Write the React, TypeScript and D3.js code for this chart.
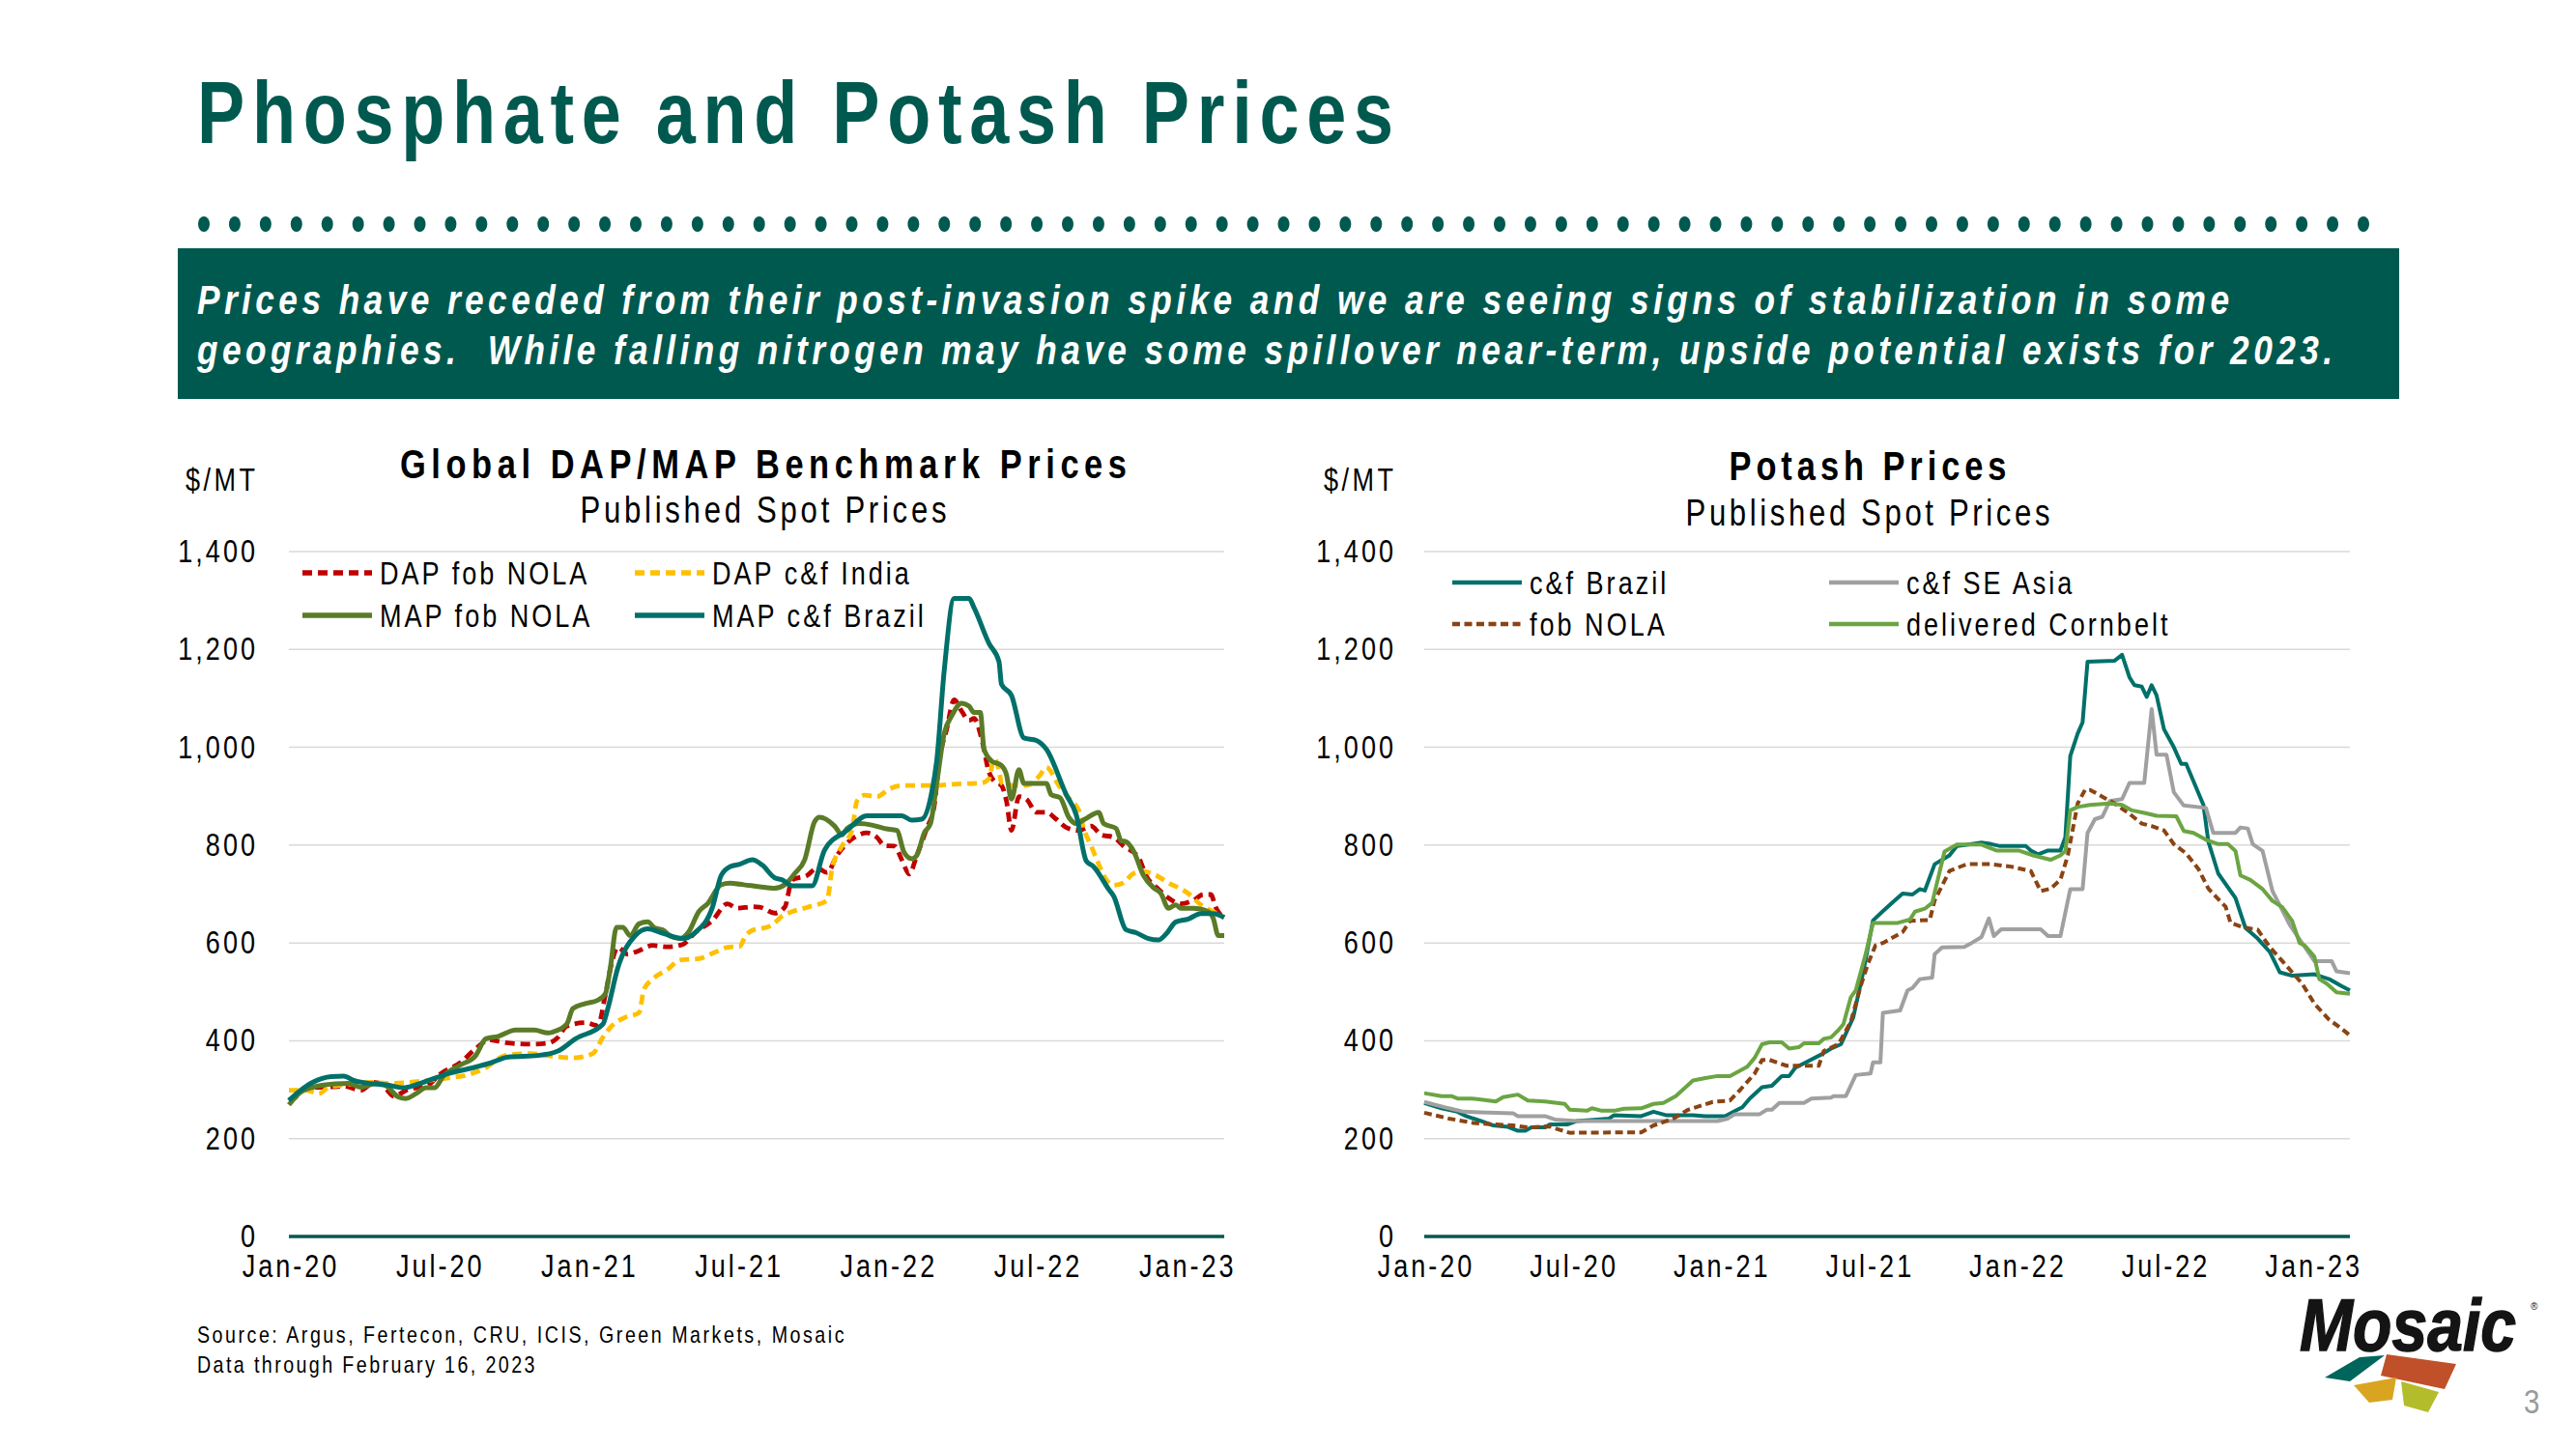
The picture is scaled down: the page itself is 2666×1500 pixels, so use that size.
import React from 'react';
import * as d3 from 'd3';

type Pt = [number, number];

const FONT = '"Liberation Sans", Arial, Helvetica, sans-serif';
const BRAND = '#00594F';

// x values are months since Jan 2020 (data through Feb 16, 2023)
const X_END = 37.54;
const tickMonths = [0, 6, 12, 18, 24, 30, 36];
const tickLabels = ['Jan-20', 'Jul-20', 'Jan-21', 'Jul-21', 'Jan-22', 'Jul-22', 'Jan-23'];
const yTicks = [0, 200, 400, 600, 800, 1000, 1200, 1400];

// ---------- Global DAP/MAP ----------
const dapFobNola: Pt[] = [[0,278],[0.2,282],[0.7,305],[1.3,305],[2.2,307],[2.9,299],[3.4,315],[3.8,308],[4.2,287],[4.8,301],[5.5,307],[6.1,333],[6.9,356],[7.5,384],[8.05,402],[8.7,396],[9.7,393],[10.4,395],[10.8,407],[11.15,430],[11.9,437],[12.4,431],[12.7,494],[12.95,558],[13.2,591],[13.6,577],[14,583],[14.6,595],[15.2,592],[15.8,597],[16.3,621],[17,646],[17.6,680],[18,671],[18.6,674],[18.9,673],[19.5,661],[19.9,673],[20.2,729],[20.8,738],[21.2,753],[21.6,744],[22,779],[22.3,799],[22.7,816],[23.2,825],[23.6,816],[23.9,799],[24.3,798],[24.6,770],[24.9,741],[25.2,779],[25.6,834],[25.9,880],[26.1,972],[26.4,1037],[26.7,1097],[27,1074],[27.3,1055],[27.5,1059],[27.8,1018],[28.1,949],[28.3,931],[28.6,922],[28.8,890],[29,830],[29.3,899],[29.6,894],[30,867],[30.4,867],[30.8,853],[31.2,836],[31.7,830],[32.2,839],[32.6,821],[33.1,816],[33.5,798],[34.1,775],[34.4,738],[34.9,710],[35.3,692],[35.8,680],[36.3,687],[36.7,699],[37,699],[37.2,673],[37.54,650]];
const dapCfrIndia: Pt[] = [[0,299],[0.7,299],[1.2,292],[1.6,305],[2.2,310],[3.3,315],[3.9,313],[4.8,315],[5.6,319],[6.4,324],[7.15,330],[7.8,342],[8.7,370],[9.7,374],[10.6,368],[11.4,365],[12.2,374],[12.6,407],[12.95,430],[13.5,448],[14.05,457],[14.25,505],[14.6,526],[15.2,546],[15.7,565],[16.45,568],[17.1,581],[17.6,591],[18.1,593],[18.3,612],[18.6,626],[18.9,629],[19.4,637],[19.8,655],[20.2,664],[20.8,673],[21.6,687],[21.8,752],[22.2,798],[22.6,830],[22.8,890],[23.1,902],[23.6,899],[24.1,915],[24.7,922],[25.75,922],[26.8,925],[27.8,927],[28.1,936],[28.3,977],[28.5,954],[28.6,927],[29.1,922],[29.6,922],[30.1,940],[30.4,959],[30.9,922],[31.4,890],[31.7,872],[31.9,834],[32.2,798],[32.5,761],[32.7,738],[33.1,718],[33.5,723],[33.9,742],[34.3,746],[34.8,738],[35.3,723],[36.1,701],[36.6,678],[37.1,664],[37.54,652]];
const mapFobNola: Pt[] = [[0,269],[0.4,292],[0.95,305],[1.85,312],[2.4,313],[2.9,305],[3.5,313],[3.9,308],[4.4,285],[4.7,282],[5.1,292],[5.5,304],[5.85,304],[6.2,328],[6.9,351],[7.5,370],[7.9,404],[8.4,409],[9.1,422],[9.85,422],[10.4,416],[10.6,418],[11.15,434],[11.4,466],[11.9,476],[12.4,483],[12.7,496],[12.9,549],[13.15,632],[13.4,632],[13.7,615],[14.05,639],[14.4,643],[14.7,630],[15,627],[15.3,614],[15.7,609],[16.05,623],[16.45,664],[16.8,680],[17.35,719],[17.7,722],[18.25,719],[18.9,715],[19.5,712],[19.9,719],[20.3,742],[20.7,770],[21.1,848],[21.3,857],[21.9,839],[22.2,821],[22.4,834],[22.9,844],[23.4,841],[23.9,834],[24.4,830],[24.7,784],[25,772],[25.2,779],[25.5,825],[25.75,844],[26,926],[26.3,1028],[26.6,1064],[27,1090],[27.3,1084],[27.5,1071],[27.75,1071],[27.9,996],[28.2,972],[28.6,963],[28.8,944],[29,894],[29.3,954],[29.5,926],[29.9,926],[30.4,926],[30.6,903],[30.95,897],[31.3,857],[31.6,844],[31.95,853],[32.5,867],[32.7,844],[33.2,834],[33.4,809],[33.6,807],[33.9,788],[34.3,738],[34.7,713],[35,701],[35.3,671],[35.6,678],[35.8,671],[36.3,671],[36.9,664],[37.1,650],[37.3,615],[37.54,615]];
const mapCfrBrazil: Pt[] = [[0,278],[0.4,296],[0.95,315],[1.7,327],[2.2,328],[2.6,319],[3.4,312],[3.9,310],[4.6,304],[5.1,310],[5.6,319],[6.4,333],[7.4,345],[8.05,354],[8.8,367],[10,370],[10.8,379],[11.5,404],[12.6,434],[12.8,466],[13.2,549],[13.9,615],[14.4,629],[15,620],[15.8,609],[16.3,621],[17,673],[17.35,738],[17.7,756],[18.1,761],[18.6,770],[19,759],[19.5,733],[19.8,729],[20.2,717],[21,717],[21.5,790],[22.4,830],[23.2,860],[24.6,860],[25,851],[25.4,853],[25.8,908],[26,972],[26.3,1156],[26.7,1304],[27.3,1304],[27.5,1285],[28.1,1212],[28.5,1175],[28.6,1129],[29,1106],[29.5,1019],[30,1014],[30.4,996],[31.2,903],[31.6,862],[32,768],[32.3,756],[32.9,710],[33.1,696],[33.6,627],[34,621],[34.5,609],[34.9,606],[35.2,618],[35.6,643],[36.1,649],[36.6,660],[37.1,660],[37.54,652]];

// ---------- Potash ----------
const potCfrBrazil: Pt[] = [[0,273],[0.7,262],[1.35,255],[1.7,246],[2.3,236],[2.8,227],[3.4,224],[3.8,216],[4.1,216],[4.35,223],[4.9,223],[5.1,229],[5.8,229],[6.2,236],[7,239],[7.5,241],[7.7,248],[8.8,246],[9.3,255],[9.8,248],[10.9,248],[11.4,246],[12.2,246],[12.7,259],[12.9,264],[13.2,282],[13.7,305],[14.1,308],[14.5,328],[14.8,328],[15.05,345],[15.4,354],[16.1,372],[16.5,384],[16.9,393],[17.4,448],[17.8,540],[18.2,646],[18.6,665],[19,683],[19.4,701],[19.8,699],[20.1,710],[20.3,707],[20.7,761],[21.3,779],[21.6,798],[22.6,805],[23,802],[23.35,798],[24.4,798],[24.6,789],[24.9,781],[25.3,789],[25.8,789],[26,816],[26.2,982],[26.5,1028],[26.7,1051],[26.9,1175],[28,1177],[28.3,1189],[28.6,1143],[28.8,1127],[29.1,1124],[29.3,1103],[29.5,1127],[29.7,1106],[30,1037],[30.4,1000],[30.7,966],[30.9,966],[31.6,882],[31.8,807],[32.2,742],[32.9,692],[33.3,631],[33.8,609],[34.3,581],[34.7,540],[35.2,533],[36.1,536],[36.7,526],[37.2,512],[37.54,503]];
const potCfrSEAsia: Pt[] = [[0,275],[1,262],[1.6,255],[3.6,252],[3.8,246],[4.9,246],[5.3,239],[6.2,236],[11.9,236],[12.3,241],[12.6,250],[13.6,250],[13.9,259],[14.1,259],[14.4,273],[15.4,273],[15.7,282],[16.5,284],[16.6,287],[17.1,287],[17.5,330],[18.1,333],[18.2,356],[18.5,356],[18.6,457],[19.3,462],[19.6,503],[19.8,508],[20.1,526],[20.6,529],[20.7,577],[21,591],[21.9,592],[22.2,600],[22.6,612],[22.9,650],[23.1,614],[23.4,628],[25,628],[25.3,614],[25.8,614],[26.2,710],[26.7,710],[26.9,825],[27.2,853],[27.5,858],[27.8,890],[28.3,894],[28.6,927],[29.2,927],[29.5,1078],[29.7,985],[30.1,985],[30.4,908],[30.8,881],[31.7,876],[32,825],[32.9,825],[33.1,836],[33.4,834],[33.6,802],[34,788],[34.4,706],[35.1,637],[35.6,600],[36.1,563],[36.8,563],[37,542],[37.54,538]];
const potFobNola: Pt[] = [[0,253],[1,241],[2,232],[2.9,229],[3.6,227],[4.2,223],[5.1,225],[5.5,218],[5.9,212],[8.8,213],[9.3,227],[10.1,241],[10.7,259],[11.7,275],[12.4,278],[12.8,299],[13.4,333],[13.7,361],[14,361],[14.7,349],[16,349],[16.2,379],[16.8,393],[17.3,439],[17.7,512],[18,558],[18.3,595],[18.6,600],[19.4,622],[19.7,645],[20.5,647],[20.7,687],[21.3,747],[22,761],[23,761],[23.8,756],[24.6,747],[25,706],[25.4,711],[25.8,729],[26.1,779],[26.5,885],[26.8,913],[27,913],[27.5,899],[28,885],[28.6,864],[29.1,844],[29.5,839],[30,830],[30.4,802],[30.9,783],[31.4,751],[31.8,711],[32.5,674],[32.7,641],[33.2,632],[33.8,627],[34.3,591],[34.8,563],[35.2,540],[35.6,517],[36.1,476],[36.7,443],[37.2,425],[37.54,411]];
const potCornbelt: Pt[] = [[0,293],[0.7,287],[1.1,287],[1.35,282],[1.9,282],[2.3,280],[2.9,276],[3.2,285],[3.8,290],[4.2,278],[4.9,276],[5.7,271],[5.9,259],[6.6,257],[6.8,262],[7.2,257],[7.7,257],[8.1,261],[8.8,262],[9.3,271],[9.7,273],[10.2,287],[10.6,305],[10.9,319],[11.4,324],[11.9,328],[12.4,328],[13.1,347],[13.4,365],[13.7,393],[14,397],[14.5,397],[14.8,384],[15.2,387],[15.4,395],[16,395],[16.2,404],[16.5,407],[16.8,422],[17,434],[17.3,489],[17.5,503],[17.9,577],[18.2,641],[19.2,641],[19.7,648],[19.9,664],[20.3,670],[20.6,682],[20.8,724],[21.1,787],[21.6,801],[22.6,801],[23.2,789],[24.1,789],[24.7,779],[25.4,770],[25.8,779],[26,788],[26.2,871],[26.5,878],[27,882],[27.8,885],[28.3,882],[28.7,871],[29.2,866],[29.7,860],[30.5,859],[30.8,829],[31.2,825],[31.7,811],[32.2,802],[32.6,802],[32.9,788],[33.1,738],[33.5,729],[34,710],[34.4,686],[34.8,673],[35.2,645],[35.5,600],[35.7,595],[36.1,572],[36.3,526],[36.6,517],[37,499],[37.54,496]];

const sourceLines = ['Source: Argus, Fertecon, CRU, ICIS, Green Markets, Mosaic', 'Data through February 16, 2023'];
const headline = 'Phosphate and Potash Prices';
const bannerLines = [
  'Prices have receded from their post-invasion spike and we are seeing signs of stabilization in some',
  'geographies.  While falling nitrogen may have some spillover near-term, upside potential exists for 2023.',
];

type Series = { name: string; data: Pt[]; color: string; dash?: string; width: number; curve: d3.CurveFactory };

const phosSeries: Series[] = [
  { name: 'DAP fob NOLA', data: dapFobNola, color: '#C00000', dash: '10 6', width: 4.8, curve: d3.curveMonotoneX },
  { name: 'DAP c&f India', data: dapCfrIndia, color: '#FFC000', dash: '10 6', width: 4.8, curve: d3.curveMonotoneX },
  { name: 'MAP fob NOLA', data: mapFobNola, color: '#5B7B27', width: 5, curve: d3.curveMonotoneX },
  { name: 'MAP c&f Brazil', data: mapCfrBrazil, color: '#00706A', width: 5, curve: d3.curveMonotoneX },
];
const potSeries: Series[] = [
  { name: 'c&f Brazil', data: potCfrBrazil, color: '#00706A', width: 4, curve: d3.curveLinear },
  { name: 'c&f SE Asia', data: potCfrSEAsia, color: '#A0A0A0', width: 4, curve: d3.curveLinear },
  { name: 'fob NOLA', data: potFobNola, color: '#8A4414', dash: '8 4.5', width: 4, curve: d3.curveLinear },
  { name: 'delivered Cornbelt', data: potCornbelt, color: '#6BA543', width: 4, curve: d3.curveLinear },
];

const SX = 0.82;

function NText(p: {
  x: number; y: number; size: number; ls?: number; anchor?: string; weight?: number | string;
  italic?: boolean; fill?: string; width?: number; children: React.ReactNode;
}) {
  const extra: any = {};
  if (p.width) { extra.textLength = p.width / SX; extra.lengthAdjust = 'spacing'; }
  return (
    <text
      transform={`translate(${p.x},${p.y}) scale(${SX},1)`}
      fontFamily={FONT}
      fontSize={p.size}
      fontWeight={p.weight ?? 400}
      fontStyle={p.italic ? 'italic' : 'normal'}
      fill={p.fill ?? '#000'}
      textAnchor={(p.anchor as any) ?? 'start'}
      letterSpacing={(p.ls ?? 0) / SX}
      style={{ whiteSpace: 'pre' }}
      {...extra}
    >
      {p.children}
    </text>
  );
}

type ChartProps = {
  x0: number; x1: number; series: Series[];
  title: string; titleX: number; titleW: number; subW: number; unitX: number; yLabelX: number;
  legendCols: number[]; legendRows: number[]; titleY: number; subY: number;
};

const Y0 = 1280, Y1 = 571;

function Chart(c: ChartProps) {
  const x = d3.scaleLinear().domain([0, X_END]).range([c.x0, c.x1]);
  const y = d3.scaleLinear().domain([0, 1400]).range([Y0, Y1]);
  return (
    <g>
      <NText x={c.unitX} y={508} size={33} ls={3.5}>$/MT</NText>
      <NText x={c.titleX} y={c.titleY} size={42} weight={700} anchor="middle" width={c.titleW}>{c.title}</NText>
      <NText x={c.titleX} y={c.subY} size={38} anchor="middle" width={c.subW}>Published Spot Prices</NText>
      {yTicks.filter(t => t > 0).map(t => (
        <line key={t} x1={c.x0} x2={c.x1} y1={y(t)} y2={y(t)} stroke="#D9D9D9" strokeWidth={1.5} />
      ))}
      {yTicks.map(t => (
        <NText key={t} x={c.yLabelX} y={y(t) + 11} size={33} ls={3} anchor="end">{d3.format(',')(t)}</NText>
      ))}
      {tickMonths.map((m, i) => (
        <NText key={m} x={x(m) + 2} y={1322} size={33} ls={3} anchor="middle">{tickLabels[i]}</NText>
      ))}
      {c.series.map(s => {
        const line = d3.line<Pt>().x(d => x(d[0])).y(d => y(d[1])).curve(s.curve);
        return (
          <path key={s.name} d={line(s.data) || ''} fill="none" stroke={s.color} strokeWidth={s.width}
            strokeDasharray={s.dash} strokeLinejoin="round" />
        );
      })}
      <line x1={c.x0} x2={c.x1} y1={Y0} y2={Y0} stroke={BRAND} strokeWidth={3.5} />
      {c.series.map((s, i) => {
        const col = i % 2, row = Math.floor(i / 2);
        const lx = c.legendCols[col];
        const ly = c.legendRows[row];
        return (
          <g key={s.name}>
            <line x1={lx} x2={lx + 72} y1={ly} y2={ly} stroke={s.color} strokeWidth={s.width + 0.5} strokeDasharray={s.dash} />
            <NText x={lx + 80} y={ly + 12} size={33} ls={3}>{s.name}</NText>
          </g>
        );
      })}
    </g>
  );
}

export default function App() {
  const dots = d3.range(71).map(i => 211 + i * (2446 - 211) / 70);
  return (
    <svg width={2666} height={1500} viewBox="0 0 2666 1500"
      style={{ position: 'absolute', left: 0, top: 0, background: '#fff' }}>
      <rect x={0} y={0} width={2666} height={1500} fill="#fff" />
      <NText x={204} y={148} size={90} weight={700} fill={BRAND} width={1238}>{headline}</NText>
      {dots.map((cx, i) => <ellipse key={i} cx={cx} cy={232} rx={6} ry={8} fill={BRAND} />)}
      <rect x={184} y={257} width={2299} height={156} fill={BRAND} />
      <NText x={204} y={325} size={43} weight={700} italic fill="#fff" width={2103}>{bannerLines[0]}</NText>
      <NText x={204} y={377} size={43} weight={700} italic fill="#fff" width={2210}>{bannerLines[1]}</NText>

      <Chart x0={299} x1={1267} series={phosSeries} title="Global DAP/MAP Benchmark Prices"
        titleX={790} titleW={752} subW={379} unitX={192} yLabelX={267}
        legendCols={[313, 657]} legendRows={[593, 637]} titleY={495} subY={541} />
      <Chart x0={1474} x1={2432} series={potSeries} title="Potash Prices"
        titleX={1933} titleW={287} subW={377} unitX={1370} yLabelX={1445}
        legendCols={[1503, 1893]} legendRows={[603, 646]} titleY={497} subY={544} />

      <NText x={204} y={1390} size={24} ls={2.5} width={672}>{sourceLines[0]}</NText>
      <NText x={204} y={1421} size={24} ls={2.5} width={352}>{sourceLines[1]}</NText>

      <g>
        <text x={2380} y={1398} fontFamily={FONT} fontWeight={900} fontStyle="italic" fontSize={76}
          textLength={224} lengthAdjust="spacingAndGlyphs" fill="#141414" stroke="#141414" strokeWidth={1.5}>Mosaic</text>
        <text x={2619} y={1356} fontFamily={FONT} fontSize={10} fill="#141414">®</text>
        <polygon points="2406,1426 2442,1405 2468,1403 2432,1430" fill="#00665C" />
        <polygon points="2470,1402 2542,1412 2530,1438 2464,1424" fill="#C0502A" />
        <polygon points="2436,1434 2480,1426 2476,1449 2452,1452" fill="#D9A520" />
        <polygon points="2485,1430 2524,1441 2513,1462 2488,1455" fill="#B3BD2B" />
      </g>
      <NText x={2612} y={1463} size={36} fill="#9A9A9A">3</NText>
    </svg>
  );
}
